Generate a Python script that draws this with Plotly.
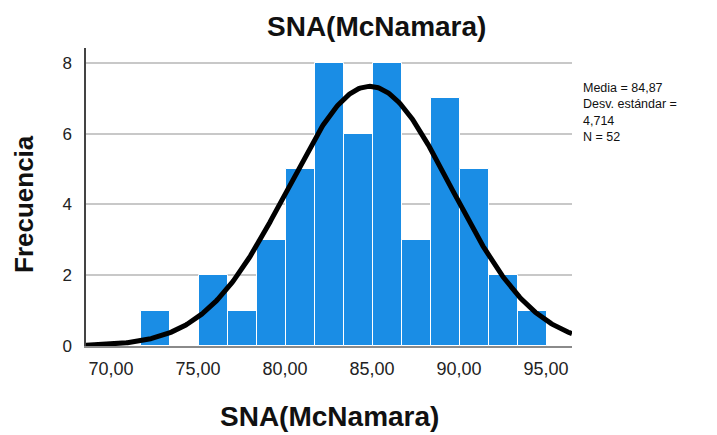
import numpy as np
import plotly.graph_objects as go

# Data
counts = [1, 0, 2, 1, 3, 5, 8, 6, 8, 3, 7, 5, 2, 1]
bin_start = 71.7
bin_width = 1.667
mean = 84.87
std = 4.714
n = 52
x_ticks = [70, 75, 80, 85, 90, 95]
x_tick_labels = ["70,00", "75,00", "80,00", "85,00", "90,00", "95,00"]
y_ticks = [0, 2, 4, 6, 8]
x_range = [68.56, 96.5]
y_range = [0, 8.42]
stats_lines = ["Media = 84,87", "Desv. estándar =", "4,714", "N = 52"]

centers = [bin_start + bin_width * (i + 0.5) for i in range(len(counts))]

xs = np.linspace(x_range[0], x_range[1], 400)
ys = n * bin_width * np.exp(-0.5 * ((xs - mean) / std) ** 2) / (std * np.sqrt(2 * np.pi))

fig = go.Figure()
fig.add_trace(go.Bar(
    x=centers, y=counts, width=bin_width,
    marker=dict(color="#1a8de5", line=dict(color="white", width=1)),
    showlegend=False, hoverinfo="skip",
))
fig.add_trace(go.Scatter(
    x=xs, y=ys, mode="lines",
    line=dict(color="black", width=5),
    showlegend=False, hoverinfo="skip",
))

font = "Liberation Sans, Arial, sans-serif"
annotations = [
    dict(text="<b>SNA(McNamara)</b>", xref="paper", yref="paper",
         x=(376 - 86) / 486, y=1 + (48 - 26) / 298, xanchor="center", yanchor="middle",
         showarrow=False, font=dict(size=28, color="#111", family=font)),
    dict(text="<b>SNA(McNamara)</b>", xref="paper", yref="paper",
         x=(329 - 86) / 486, y=-(416 - 346) / 298, xanchor="center", yanchor="middle",
         showarrow=False, font=dict(size=28, color="#111", family=font)),
    dict(text="<b>Frecuencia</b>", xref="paper", yref="paper",
         x=-(86 - 24) / 486, y=(346 - 204) / 298, xanchor="center", yanchor="middle",
         textangle=-90, showarrow=False, font=dict(size=26, color="#111", family=font)),
    dict(text="<br>".join(stats_lines), xref="paper", yref="paper",
         x=(582 - 86) / 486, y=(346 - 80) / 298,
         xanchor="left", yanchor="top", align="left", showarrow=False,
         borderpad=0,
         font=dict(size=12.5, color="#111", family=font)),
]

fig.update_layout(
    width=717, height=435,
    margin=dict(l=86, r=145, t=48, b=89),
    paper_bgcolor="white", plot_bgcolor="white",
    font=dict(family=font, color="#222"),
    bargap=0,
    xaxis=dict(
        range=x_range, tickvals=x_ticks, ticktext=x_tick_labels,
        tickfont=dict(size=18, color="#222"),
        showgrid=False, zeroline=False,
        showline=True, linecolor="#8a8a8a", linewidth=2,
        ticks="", ticklabelstandoff=5,
    ),
    yaxis=dict(
        range=y_range, tickvals=y_ticks,
        tickfont=dict(size=17, color="#222"),
        showgrid=True, gridcolor="#c8c8c8", gridwidth=1.5,
        zeroline=False,
        showline=True, linecolor="#444", linewidth=1.5,
        ticks="", ticklabelstandoff=9,
    ),
    annotations=annotations,
)

fig.write_html("out.html")
